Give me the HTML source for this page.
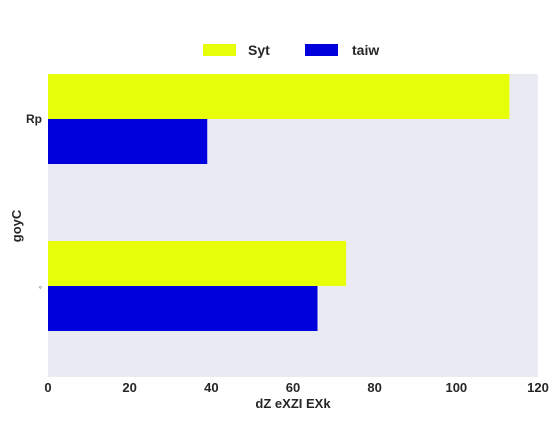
<!DOCTYPE html>
<html><head><meta charset="utf-8"><style>
body{margin:0;background:#fff;}
svg text{font-family:"Liberation Sans",sans-serif;font-weight:bold;fill:#262626;}
</style></head><body>
<svg width="560" height="420">
<rect x="48" y="74" width="490" height="303" fill="#eaeaf2"/>
<g id="bars"></g>
<g id="xticks"></g>
<g id="yticks"></g>
<text x="293" y="408" font-size="13" text-anchor="middle">dZ eXZI EXk</text>
<text x="21" y="226" font-size="13" text-anchor="middle" transform="rotate(-90 21 226)">goyC</text>
<g>
<rect x="203" y="44" width="33" height="12" fill="#e8ff0a"/>
<text x="248" y="55" font-size="14">Syt</text>
<rect x="305" y="44" width="33" height="12" fill="#0000dc"/>
<text x="352" y="55" font-size="14">taiw</text>
</g>
</svg>
<script>
const categories=["Rp","◦"];
const sytValues=[113,73];
const taiwValues=[39,66];
const xTicks=[0,20,40,60,80,100,120];
const ns="http://www.w3.org/2000/svg";
function xs(v){return 48+v*(490/120);}
function yc(i){return 119+167*i;}
const bars=document.getElementById('bars');
function mk(tag,attrs,parent){const e=document.createElementNS(ns,tag);for(const k in attrs)e.setAttribute(k,attrs[k]);parent.appendChild(e);return e;}
categories.forEach((c,i)=>{
  const r1=mk('rect',{x:xs(0),y:yc(i)-45,width:xs(sytValues[i])-xs(0),height:45,fill:'#e8ff0a'},bars);
  
  
  const r2=mk('rect',{x:xs(0),y:yc(i),width:xs(taiwValues[i])-xs(0),height:45,fill:'#0000dc'},bars);
  
  
  const t=mk('text',{x:42,y:yc(i)+4,'font-size':c==="◦"?9:12,'text-anchor':'end'},document.getElementById('yticks'));
  t.textContent=c;
  
  
});
xTicks.forEach(v=>{
  const t=mk('text',{x:xs(v),y:392,'font-size':13,'text-anchor':'middle'},document.getElementById('xticks'));
  t.textContent=v;
  
  
});
</script>
</body></html>
